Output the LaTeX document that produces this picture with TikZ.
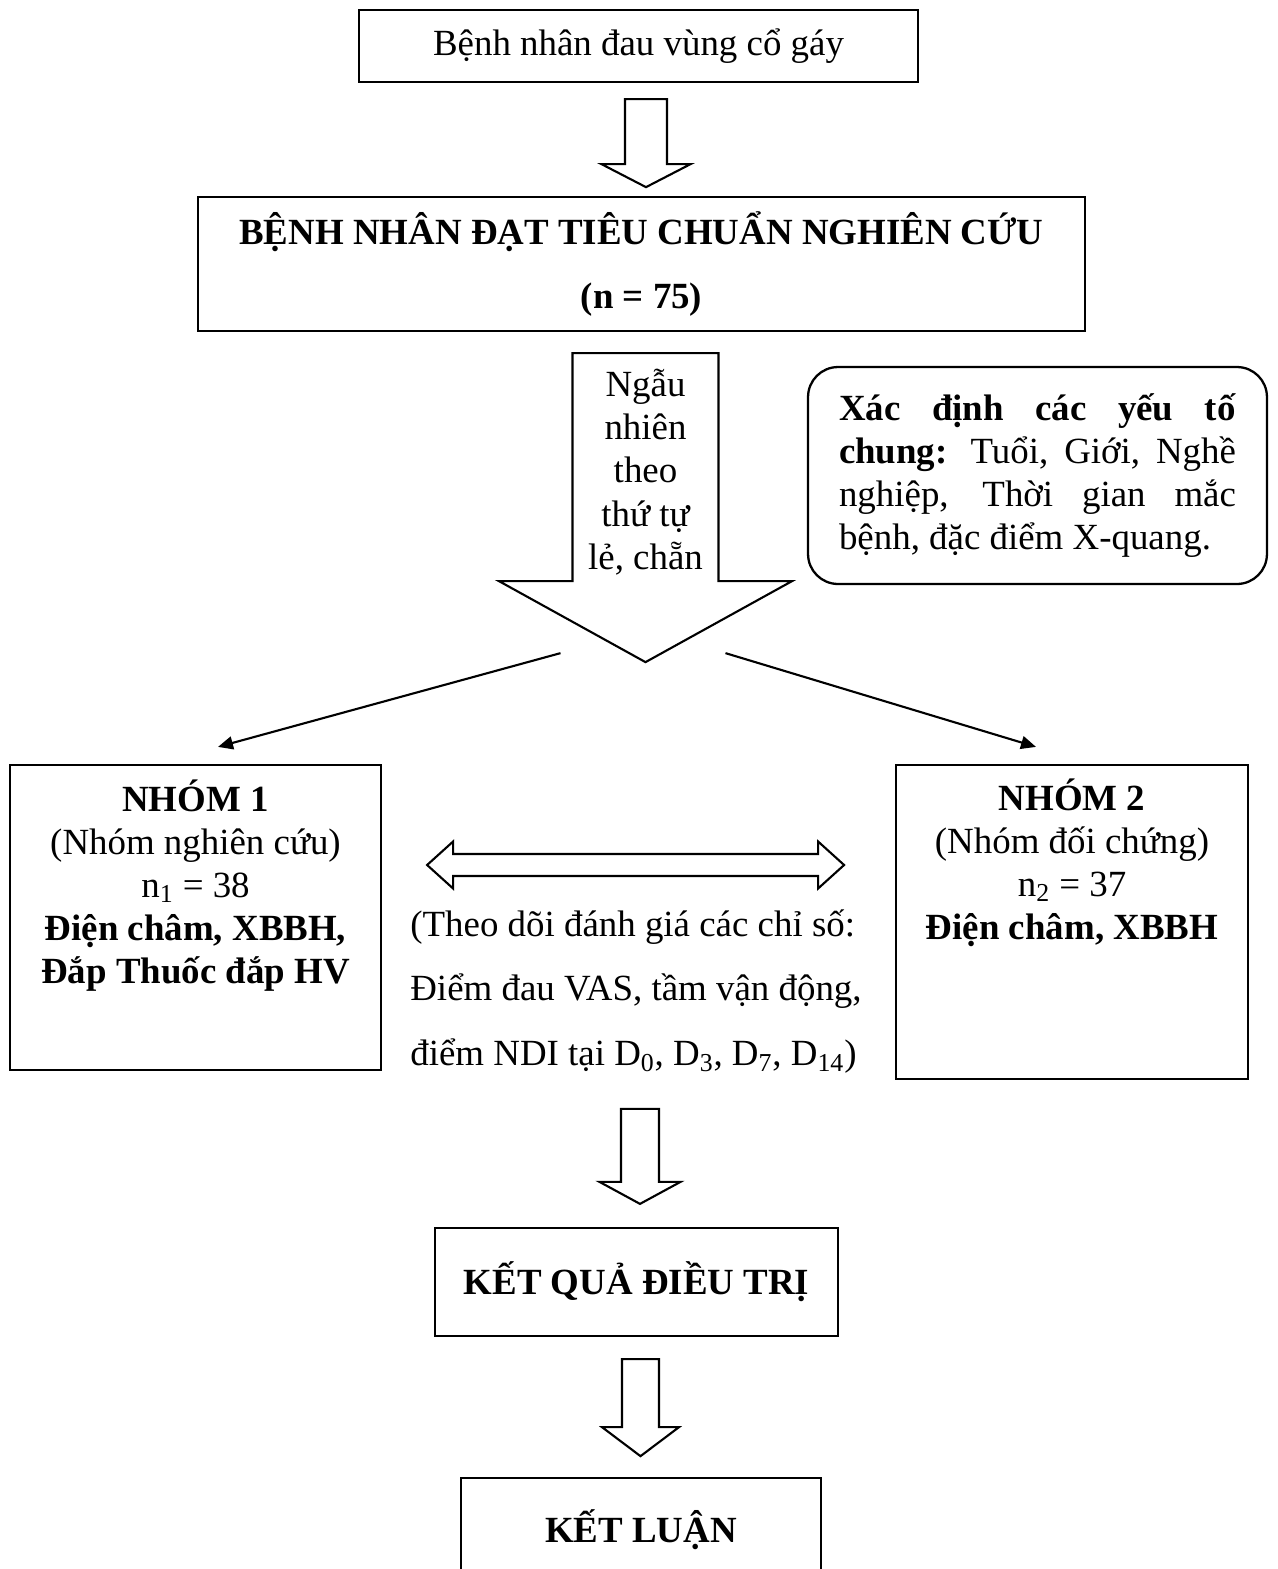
\documentclass[tikz,border=0pt]{standalone}
\usepackage{fontspec}
\setmainfont{Liberation Serif}
\usepackage{tikz}
\usetikzlibrary{arrows.meta,calc}

\begin{document}
\begin{tikzpicture}[
  x=0.02cm, y=-0.02cm,
  font=\fontsize{21}{24.5}\selectfont,
  box/.style={draw, line width=1.3pt, align=center, inner sep=0pt},
  roundbox/.style={box, rounded corners=0.6cm},
  blk/.style={draw, line width=1.2pt, fill=white, line join=miter},
  arr/.style={-{Triangle[length=0.3cm, width=0.26cm]}, line width=1.2pt},
  txt/.style={inner sep=0pt, align=center}
]
\useasboundingbox (0,0) rectangle (1278,1569);

\node[box, minimum width=11.18cm, minimum height=1.44cm] (start) at (638.5,46) {Bệnh nhân đau vùng cổ gáy};
\node[box, font=\fontsize{21}{36.9}\selectfont\bfseries, minimum width=17.74cm, minimum height=2.68cm]
  (eligible) at (641.5,264) {BỆNH NHÂN ĐẠT TIÊU CHUẨN NGHIÊN CỨU\\(n = 75)};
\node[roundbox, text width=7.94cm, align=justify, minimum width=9.18cm, minimum height=4.34cm]
  (factors) at (1037.5,475.5) {\textbf{Xác định các yếu tố}\linebreak \textbf{chung:} Tuổi, Giới, Nghề\linebreak
  nghiệp, Thời gian mắc\linebreak bệnh, đặc điểm X-quang.};

\node[box, minimum width=7.42cm, minimum height=6.1cm] (nhom1) at (195.5,917.5) {};
\node[txt, anchor=north] (nhom1txt) at (195.5,779) {\textbf{NHÓM 1}\\(Nhóm nghiên cứu)\\n\textsubscript{1} = 38\\
  \textbf{Điện châm, XBBH,}\\\textbf{Đắp Thuốc đắp HV}};
\node[box, minimum width=7.04cm, minimum height=6.28cm] (nhom2) at (1072,922) {};
\node[txt, anchor=north] (nhom2txt) at (1072,778) {\textbf{NHÓM 2}\\(Nhóm đối chứng)\\n\textsubscript{2} = 37\\
  \textbf{Điện châm, XBBH}};
\node[txt, anchor=north west, align=left, font=\fontsize{21}{36.9}\selectfont] (followup) at (410,909)
  {(Theo dõi đánh giá các chỉ số:\\Điểm đau VAS, tầm vận động,\\điểm NDI tại D\textsubscript{0}, D\textsubscript{3}, D\textsubscript{7}, D\textsubscript{14})};

\node[box, font=\fontsize{21}{24.5}\selectfont\bfseries, minimum width=8.06cm, minimum height=2.16cm]
  (result) at (636.5,1282) {KẾT QUẢ ĐIỀU TRỊ};
\node[box, font=\fontsize{21}{24.5}\selectfont\bfseries, minimum width=7.2cm, minimum height=2.08cm]
  (conclusion) at (641,1530) {KẾT LUẬN};

% block arrows
\coordinate (a1) at ($(start.south)+(7.5,16)$);
\draw[blk] (a1) ++(-21,0) -- ++(0,65) -- ++(-23.5,0) -- ++(44.5,23) -- ++(44.5,-23) -- ++(-23.5,0) -- ++(0,-65) -- cycle;

\coordinate (a2) at ($(eligible.south)+(4,21)$);
\draw[blk] (a2) ++(-73,0) -- ++(0,228) -- ++(-73.5,0) -- ++(146.5,81) -- ++(146.5,-81) -- ++(-73.5,0) -- ++(0,-228) -- cycle;
\node[txt] (ngaunhien) at ($(a2)+(0,119)$) {Ngẫu\\nhiên\\theo\\thứ tự\\lẻ, chẵn};

\coordinate (a3) at ($(result.north)+(3.5,-118)$);
\draw[blk] (a3) ++(-19,0) -- ++(0,73) -- ++(-21.5,0) -- ++(40.5,22) -- ++(40.5,-22) -- ++(-21.5,0) -- ++(0,-73) -- cycle;

\coordinate (a4) at ($(result.south)+(4,22)$);
\draw[blk] (a4) ++(-18.5,0) -- ++(0,68) -- ++(-20,0) -- ++(38.5,29) -- ++(38.5,-29) -- ++(-20,0) -- ++(0,-68) -- cycle;

% two-way arrow between the groups
\coordinate (d1) at ($(nhom1.east)+(45,-52.5)$);
\draw[blk] (d1) -- ++(26,-23.5) -- ++(0,12.5) -- ++(365,0) -- ++(0,-12.5) -- ++(26,23.5) -- ++(-26,23.5)
  -- ++(0,-12.5) -- ++(-365,0) -- ++(0,12.5) -- cycle;

% split into the two groups
\coordinate (splitL) at ($(a2)+(-85,300)$);
\coordinate (splitR) at ($(a2)+(80,300)$);
\draw[arr] (splitL) -- ($(nhom1.north)+(22.5,-17)$);
\draw[arr] (splitR) -- ($(nhom2.north)+(-36,-17)$);
\end{tikzpicture}
\end{document}
